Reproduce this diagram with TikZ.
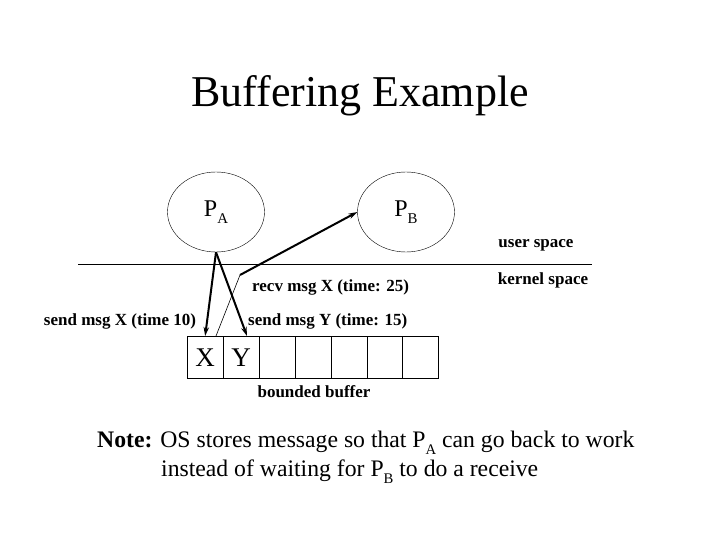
\documentclass[tikz,border=0pt]{standalone}
\usepackage{fontspec}
\setmainfont{Liberation Serif}
\usetikzlibrary{shapes.geometric,arrows.meta}
\newcommand\lowsub[1]{\raisebox{-0.3em}{\fontsize{0.62em}{0.7em}\selectfont #1}}
\begin{document}
\begin{tikzpicture}[x=1pt,y=-1pt,
  proc/.style={draw,ellipse,minimum width=97pt,minimum height=80pt,inner sep=0pt,font=\fontsize{24}{26}\selectfont},
  cell/.style={draw,minimum width=35.9pt,minimum height=42pt,inner sep=0pt,anchor=north west,font=\fontsize{27}{29}\selectfont},
  lbl/.style={font=\bfseries\fontsize{17}{19}\selectfont,inner sep=0pt},
  thickarrow/.style={line width=2pt,-{Stealth[length=9pt,width=5.5pt]}},
  thinline/.style={line width=0.6pt}]
\useasboundingbox (0,0) rectangle (720,540);
\node[font=\fontsize{44}{48}\selectfont] (title) at (360,96) {Buffering Example};
\node[proc] (PA) at (216,212) {P\lowsub{A}};
\node[proc] (PB) at (406,212) {P\lowsub{B}};
\coordinate (lineL) at (78,264);
\coordinate (lineR) at (592,264);
\draw[thinline] (lineL) -- (lineR);
\foreach \i/\t in {0/X,1/Y,2/,3/,4/,5/,6/} {
  \node[cell] (c\i) at (187+\i*35.9,336) {\t};
}
\coordinate (yend) at (247,336);
\coordinate (rstart) at (216,336);
\coordinate (rbend) at (240,275);
\draw[thickarrow] (PA.south) -- (c0.north);
\draw[thickarrow] (PA.south) -- (yend);
\draw[thinline] (rstart) -- (rbend);
\draw[thickarrow] (rbend) -- (PB.west);
\node[lbl] (sx) at (120,321) {send msg X (time 10)};
\node[lbl,anchor=west] (sy) at (248,321) {send msg Y (time: 15)};
\node[lbl,anchor=west] (rx) at (252,287) {recv msg X (time: 25)};
\node[lbl] (us) at (536,245) {user space};
\node[lbl] (ks) at (543,280) {kernel space};
\node[lbl] (bb) at (314,392) {bounded buffer};
\node[font=\fontsize{23.7}{29}\selectfont,align=left,anchor=north west,inner sep=0pt] (note) at (97,431)
  {\textbf{Note:} OS stores message so that P\lowsub{A} can go back to work\\
   \hspace*{64pt}instead of waiting for P\lowsub{B} to do a receive};
\end{tikzpicture}
\end{document}
